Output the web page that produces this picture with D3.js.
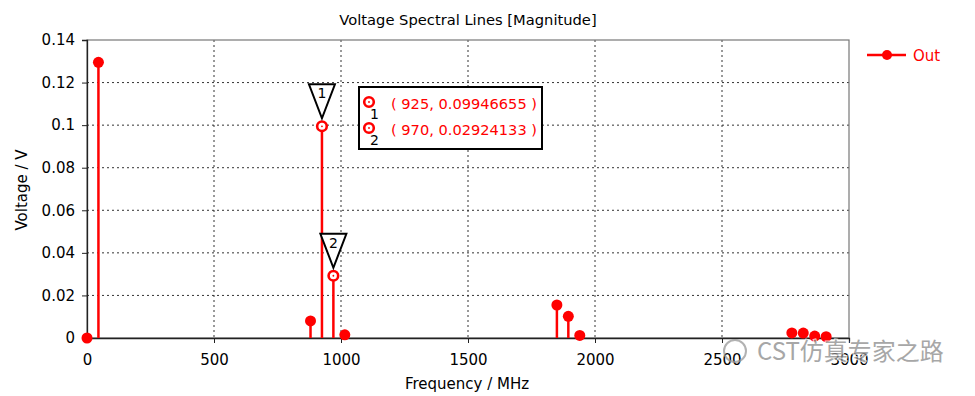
<!DOCTYPE html>
<html>
<head>
<meta charset="utf-8">
<script src="https://cdn.jsdelivr.net/npm/d3@7"></script>
<style>
  body { margin: 0; background: #fff; }
  text { font-family: "DejaVu Sans", Verdana, sans-serif; }
</style>
</head>
<body>
<svg id="chart" width="975" height="396"></svg>
<script>
// DATA
var freqs  = [0, 45, 880, 925, 970, 1015, 1850, 1895, 1940, 2775, 2820, 2865, 2910];
var volts  = [0, 0.1295, 0.008, 0.09946655, 0.02924133, 0.0015, 0.0155, 0.0102, 0.0012, 0.0024, 0.0023, 0.0009, 0.0006];
var xTicks = [0, 500, 1000, 1500, 2000, 2500, 3000];
var yTicks = [0, 0.02, 0.04, 0.06, 0.08, 0.1, 0.12, 0.14];
var markerFreqs = [925, 970];
var markerLabels = ["( 925, 0.09946655 )", "( 970, 0.02924133 )"];

var RED = "#ff0000";
var svg = d3.select('#chart');
var margin = {left: 87, right: 126, top: 40, bottom: 58};
var width = 975, height = 396;

var x = d3.scaleLinear().domain([0, 3000]).range([margin.left, width - margin.right]);
var y = d3.scaleLinear().domain([0, 0.14]).range([height - margin.bottom, margin.top]);

// grid
svg.append('g').selectAll('line.gx')
  .data(xTicks.slice(1, -1)).enter().append('line')
    .attr('x1', d => x(d)).attr('x2', d => x(d))
    .attr('y1', y(0.14)).attr('y2', y(0))
    .attr('stroke', '#333').attr('stroke-width', 1).attr('stroke-dasharray', '2,3');
svg.append('g').selectAll('line.gy')
  .data(yTicks.slice(1, -1)).enter().append('line')
    .attr('x1', x(0)).attr('x2', x(3000))
    .attr('y1', d => y(d)).attr('y2', d => y(d))
    .attr('stroke', '#333').attr('stroke-width', 1).attr('stroke-dasharray', '2,3');

// frame
svg.append('rect')
  .attr('x', x(0)).attr('y', y(0.14))
  .attr('width', x(3000) - x(0)).attr('height', y(0) - y(0.14))
  .attr('fill', 'none').attr('stroke', '#777').attr('stroke-width', 1.2);

// axes
var xAxis = svg.append('g')
  .attr('transform', 'translate(0,' + y(0) + ')')
  .call(d3.axisBottom(x).tickValues(xTicks).tickSize(5).tickPadding(11).tickFormat(d3.format('d')));
var yAxis = svg.append('g')
  .attr('transform', 'translate(' + x(0) + ',0)')
  .call(d3.axisLeft(y).tickValues(yTicks).tickSize(5).tickPadding(7).tickFormat(d => d === 0 ? '0' : String(+d.toFixed(2))));
[xAxis, yAxis].forEach(function(a) {
  a.selectAll('text').style('font-size', '15px').attr('fill', '#000');
  a.selectAll('line').attr('stroke', '#222');
  a.select('.domain').attr('stroke', '#222').attr('stroke-width', 1.3);
});

// titles
svg.append('text').attr('x', 468).attr('y', 25).attr('text-anchor', 'middle')
  .style('font-size', '14.7px').text('Voltage Spectral Lines [Magnitude]');
svg.append('text').attr('x', 467).attr('y', 389).attr('text-anchor', 'middle')
  .style('font-size', '15px').text('Frequency / MHz');
svg.append('text').attr('transform', 'translate(27,190) rotate(-90)').attr('text-anchor', 'middle')
  .style('font-size', '15px').text('Voltage / V');

// stems
var pts = freqs.map((f, i) => ({f: f, v: volts[i], marked: markerFreqs.indexOf(f) >= 0}));
svg.append('g').selectAll('line')
  .data(pts).enter().append('line')
    .attr('x1', d => x(d.f)).attr('x2', d => x(d.f))
    .attr('y1', y(0)).attr('y2', d => y(d.v))
    .attr('stroke', RED).attr('stroke-width', 2.5);

// points
svg.append('g').selectAll('circle')
  .data(pts.filter(d => !d.marked)).enter().append('circle')
    .attr('cx', d => x(d.f)).attr('cy', d => y(d.v)).attr('r', 5.5)
    .attr('fill', RED);

// marker rings
function ring(g, cx, cy) {
  g.append('circle').attr('cx', cx).attr('cy', cy).attr('r', 4.8)
    .attr('fill', '#fff').attr('stroke', RED).attr('stroke-width', 2.6);
  g.append('circle').attr('cx', cx).attr('cy', cy).attr('r', 0.9).attr('fill', RED);
}
var mk = svg.append('g');
pts.filter(d => d.marked).forEach(function(d, i) {
  var cx = x(d.f), cy = y(d.v);
  ring(mk, cx, cy);
  var top = cy - 42, tip = cy - 8;
  mk.append('path')
    .attr('d', 'M' + (cx - 13) + ',' + top + 'L' + (cx + 13) + ',' + top + 'L' + cx + ',' + tip + 'Z')
    .attr('fill', '#fff').attr('stroke', '#000').attr('stroke-width', 2).attr('stroke-linejoin', 'miter');
  mk.append('text').attr('x', cx).attr('y', top + 14).attr('text-anchor', 'middle')
    .style('font-size', '14px').text(i + 1);
});

// marker info box
var box = svg.append('g');
box.append('rect').attr('x', 359).attr('y', 87).attr('width', 183).attr('height', 62)
  .attr('fill', '#fff').attr('stroke', '#000').attr('stroke-width', 2);
markerLabels.forEach(function(t, i) {
  var cy = 102 + i * 26;
  ring(box, 369, cy);
  box.append('text').attr('x', 370).attr('y', cy + 17).style('font-size', '14px').text(i + 1);
  box.append('text').attr('x', 391).attr('y', cy + 7).attr('fill', RED)
    .style('font-size', '14.6px').text(t);
});

// legend
var lg = svg.append('g');
lg.append('line').attr('x1', 867).attr('x2', 906).attr('y1', 55).attr('y2', 55)
  .attr('stroke', RED).attr('stroke-width', 2.5);
lg.append('circle').attr('cx', 887).attr('cy', 55).attr('r', 5).attr('fill', RED);
lg.append('text').attr('x', 913).attr('y', 61).attr('fill', RED).style('font-size', '15px').text('Out');

// watermark
var wm = svg.append('g').attr('opacity', 0.75);
wm.append('circle').attr('cx', 735).attr('cy', 351).attr('r', 11)
  .attr('fill', 'none').attr('stroke', '#999').attr('stroke-width', 2);
wm.append('text').attr('x', 757).attr('y', 360)
  .style('font-family', '"Noto Sans CJK SC", sans-serif').style('font-size', '24px')
  .attr('fill', '#8a8a8a').attr('stroke', '#fff').attr('stroke-width', 2).attr('paint-order', 'stroke')
  .text('CST仿真专家之路');
</script>
</body>
</html>
